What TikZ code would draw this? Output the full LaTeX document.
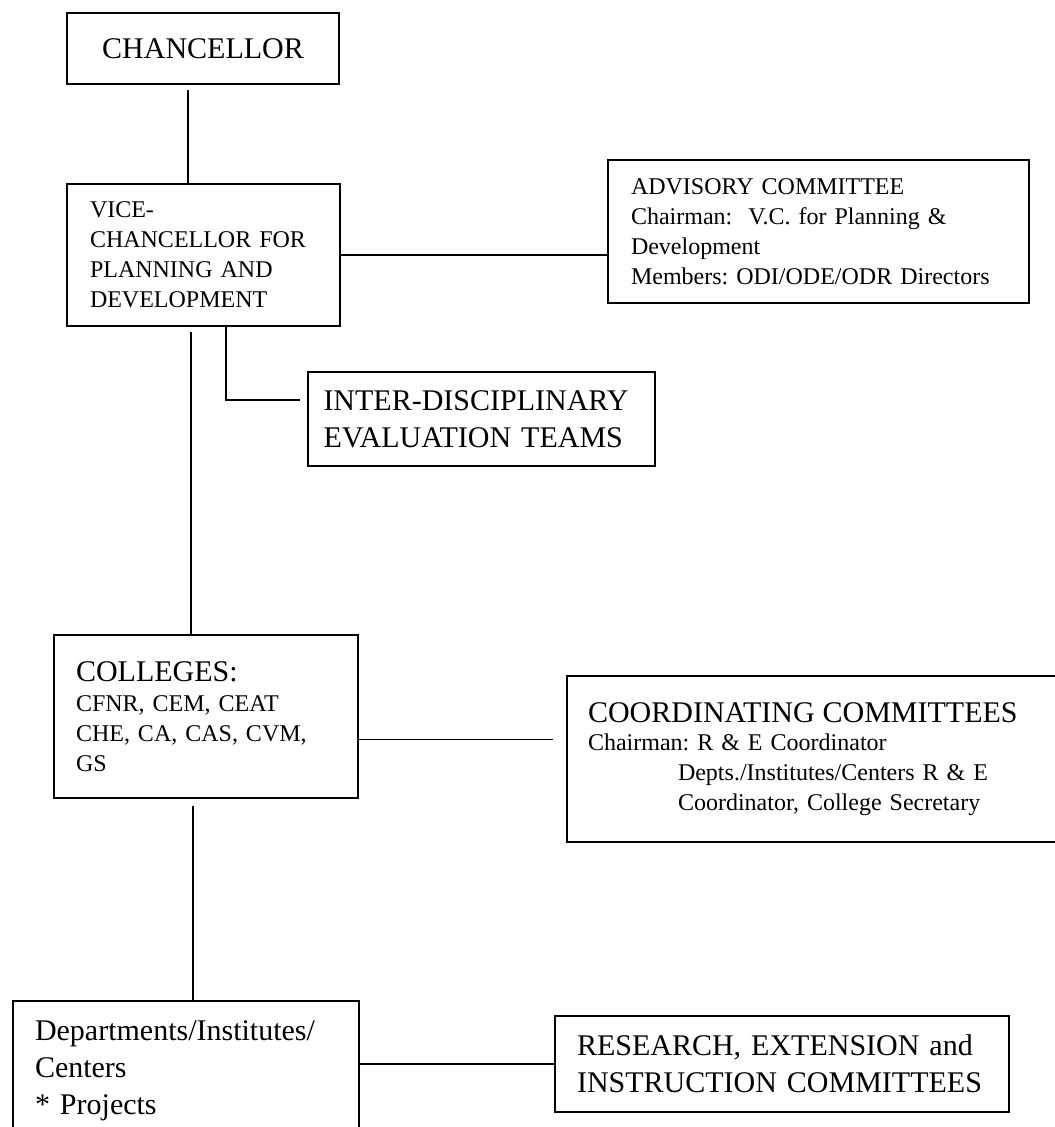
\documentclass[tikz,border=0pt]{standalone}
\usepackage{fontspec}
\setmainfont{Liberation Serif}
\usetikzlibrary{calc}
\frenchspacing

\begin{document}
\begin{tikzpicture}[x=0.5pt,y=-0.5pt,
  box/.style={draw,line width=1pt,anchor=north west,inner sep=0pt,align=left,font=\fontsize{12}{15}\selectfont},
  big/.style={font=\fontsize{15}{18.5}\selectfont},
  link/.style={line width=0.8pt}]
\useasboundingbox (0,0) rectangle (1054,1127);
% top levels
\node [box,big,align=center,minimum width=136pt,minimum height=35.5pt] (chan) at (66,12) {CHANCELLOR};
\node [box,minimum width=136.5pt,minimum height=71pt,text width=113.5pt] (vc) at (66,183)
	{VICE-\\CHANCELLOR FOR\\PLANNING AND\\DEVELOPMENT};
\node [box,minimum width=210.5pt,minimum height=71.5pt,text width=187.5pt] (adv) at (607,159)
	{ADVISORY COMMITTEE\\Chairman:\ \ V.C. for Planning \&\\Development\\Members: ODI/ODE/ODR Directors};
\node [box,big,minimum width=173.5pt,minimum height=47pt,text width=158pt] (idt) at (307,371)
	{INTER-DISCIPLINARY\\EVALUATION TEAMS};
% colleges
\node [box,minimum width=152pt,minimum height=81.5pt,text width=130pt] (col) at (53,634)
	{{\fontsize{15}{15}\selectfont COLLEGES:}\\CFNR, CEM, CEAT\\CHE, CA, CAS, CVM,\\GS};
\node [box,minimum width=250pt,minimum height=83pt,text width=229pt] (coord) at (566,675)
	{{\fontsize{15}{15}\selectfont COORDINATING COMMITTEES}\\[-1pt]Chairman: R \& E Coordinator\\
	\hspace*{45pt}Depts./Institutes/Centers R \& E\\\hspace*{45pt}Coordinator, College Secretary};
% departments
\node [box,big,minimum width=173pt,minimum height=70pt,text width=151pt] (dept) at (12,1000)
	{Departments/Institutes/\\Centers\\{*} Projects};
\node [box,big,minimum width=227pt,minimum height=48pt,text width=205pt] (re) at (554,1015)
	{RESEARCH, EXTENSION and\\INSTRUCTION COMMITTEES};
% connectors
\draw [link] ($(chan.south west)+(122,5)$) -- ($(vc.north west)+(122,0)$);
\draw [link] (vc.east) -- (vc.east -| adv.west);
\draw [link] ($(vc.south west)+(160,0)$) |- ($(idt.west)+(-7,-19)$);
\draw [link] ($(vc.south west)+(125,5)$) -- ($(vc.south west |- col.north)+(125,0)$);
\draw [link] ($(col.east)+(0,23)$) -- ($(col.east -| coord.west)+(-13,23)$);
\draw [link] ($(col.south west)+(140,7)$) -- ($(col.south west |- dept.north)+(140,0)$);
\draw [link] (re.west -| dept.east) -- (re.west);
\end{tikzpicture}
\end{document}
